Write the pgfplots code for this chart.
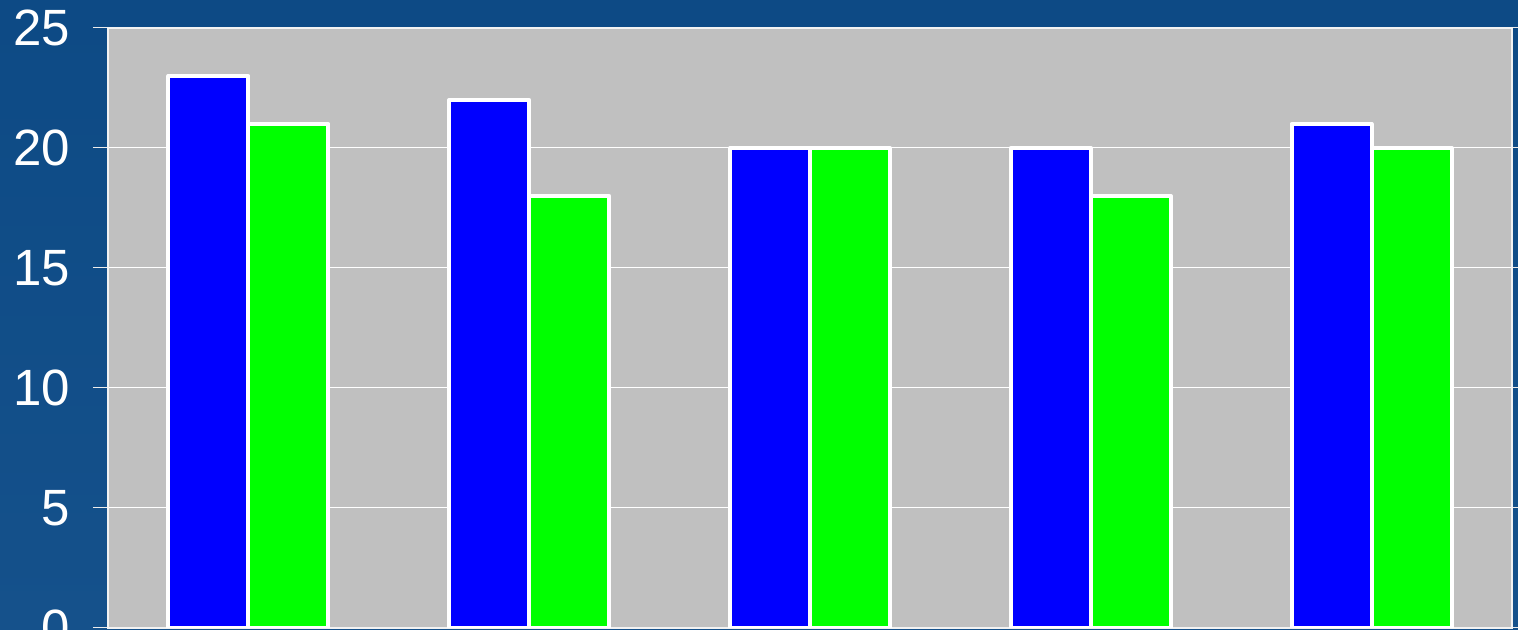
\documentclass[border=0pt]{standalone}
\usepackage{pgfplots}
\pgfplotsset{compat=1.18}
\usepackage{fontspec}
\setmainfont{Liberation Sans}
\definecolor{bgtop}{HTML}{0D4A85}
\definecolor{bgbot}{HTML}{15518B}
\definecolor{plotgray}{HTML}{C0C0C0}
\definecolor{barblue}{HTML}{0000FF}
\definecolor{bargreen}{HTML}{00FF00}
\begin{document}
\begin{tikzpicture}
\useasboundingbox (0,0) rectangle (759pt,315pt);
\clip (0,0) rectangle (759pt,315pt);
\shade[top color=bgtop, bottom color=bgbot] (0,0) rectangle (759pt,315pt);
\begin{axis}[
  at={(54pt,1pt)}, anchor=south west,
  scale only axis, width=702pt, height=300pt,
  xmin=-0.5, xmax=4.5, ymin=0, ymax=25,
  ytick={0,5,10,15,20,25},
  xtick=\empty,
  axis background/.style={fill=plotgray},
  axis line style={draw=white!90!gray, line width=0.6pt},
  ymajorgrids, grid style={white, line width=0.5pt},
  tick align=outside,
  major tick length=7.5pt,
  ytick style={white!85!gray, line width=0.5pt},
  /pgf/number format/assume math mode=true,
  yticklabel style={font=\fontsize{25.5}{30}\selectfont, text=white, anchor=east, xshift=-8pt},
  ybar, bar width=40pt,
  every axis plot/.append style={draw=white, line width=2pt, line join=round},
]
\addplot[fill=barblue, bar shift=-20pt] coordinates {(0,23) (1,22) (2,20) (3,20) (4,21)};
\addplot[fill=bargreen, bar shift=20pt] coordinates {(0,21) (1,18) (2,20) (3,18) (4,20)};
\end{axis}
\end{tikzpicture}
\end{document}
